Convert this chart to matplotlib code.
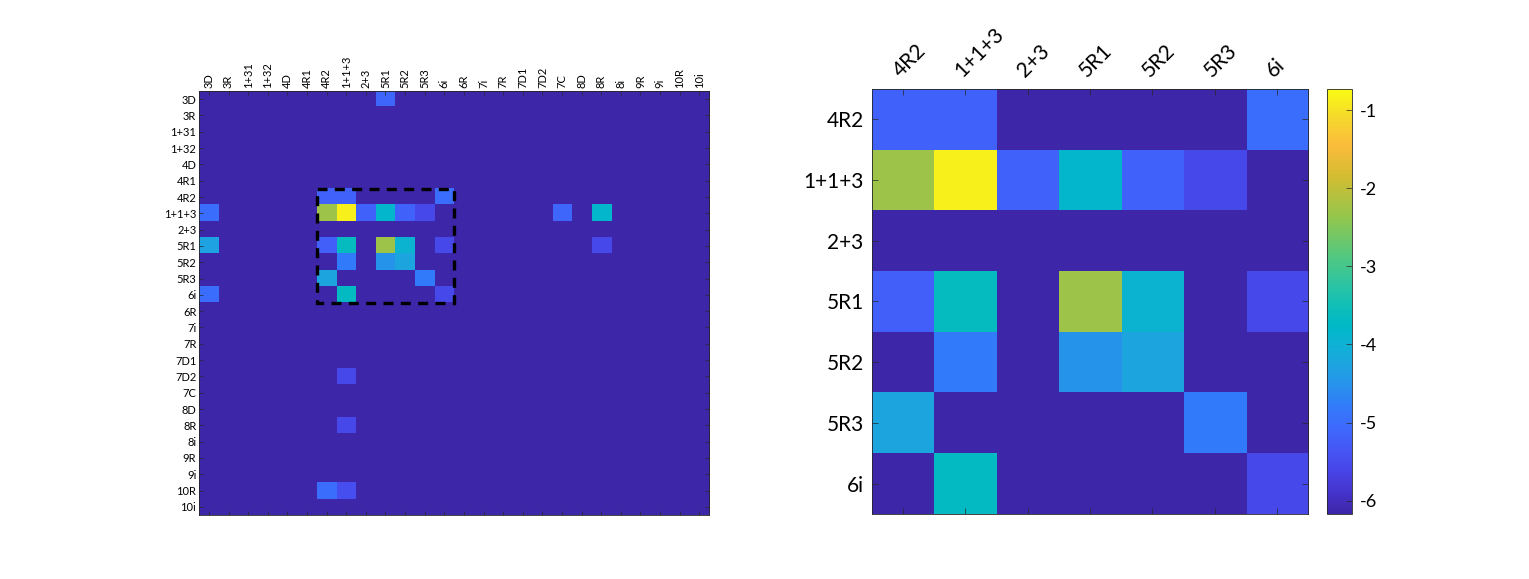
import numpy as np
import matplotlib
matplotlib.use("Agg")
import matplotlib.pyplot as plt
from matplotlib.colors import LinearSegmentedColormap
from matplotlib.patches import Rectangle

# state labels (rows == columns)
labels = ["3D", "3R", "1+31", "1+32", "4D", "4R1", "4R2", "1+1+3", "2+3",
          "5R1", "5R2", "5R3", "6i", "6R", "7i", "7R", "7D1", "7D2", "7C",
          "8D", "8R", "8i", "9R", "9i", "10R", "10i"]

# non-background cells (log10 values)
cell_rows = ["3D", "4R2", "4R2", "4R2",
             "1+1+3", "1+1+3", "1+1+3", "1+1+3", "1+1+3", "1+1+3", "1+1+3", "1+1+3", "1+1+3",
             "5R1", "5R1", "5R1", "5R1", "5R1", "5R1", "5R1",
             "5R2", "5R2", "5R2", "5R3", "5R3",
             "6i", "6i", "6i", "7D2", "8R", "10R", "10R"]
cell_cols = ["5R1", "4R2", "1+1+3", "6i",
             "3D", "4R2", "1+1+3", "2+3", "5R1", "5R2", "5R3", "7C", "8R",
             "3D", "4R2", "1+1+3", "5R1", "5R2", "6i", "8R",
             "1+1+3", "5R1", "5R2", "4R2", "5R3",
             "3D", "1+1+3", "6i", "1+1+3", "1+1+3", "4R2", "1+1+3"]
cell_vals = [-5.1, -5.15, -5.15, -5.0,
             -5.0, -2.3, -0.85, -5.15, -3.85, -5.15, -5.55, -5.1, -3.85,
             -4.3, -5.2, -3.65, -2.3, -3.95, -5.55, -5.55,
             -4.8, -4.5, -4.25, -4.25, -4.8,
             -5.0, -3.7, -5.55, -5.55, -5.55, -5.0, -5.45]

background = -6.17
vmin, vmax = -6.17, -0.73

# zoomed block shown on the right
zoom_labels = ["4R2", "1+1+3", "2+3", "5R1", "5R2", "5R3", "6i"]
cbar_ticks = [-6, -5, -4, -3, -2, -1]

# approximate parula
parula_pts = [
    (0.00, (62, 38, 168)), (0.05, (69, 52, 205)), (0.10, (71, 68, 230)),
    (0.15, (70, 86, 246)), (0.20, (63, 104, 252)), (0.25, (50, 122, 250)),
    (0.30, (40, 145, 236)), (0.35, (29, 164, 224)), (0.40, (14, 178, 212)),
    (0.44, (0, 184, 200)), (0.48, (12, 190, 186)), (0.53, (38, 195, 168)),
    (0.60, (78, 200, 132)), (0.70, (148, 198, 76)), (0.80, (214, 188, 48)),
    (0.87, (252, 188, 60)), (0.93, (245, 214, 45)), (1.00, (249, 251, 20)),
]
parula = LinearSegmentedColormap.from_list(
    "parula", [(p, tuple(c / 255 for c in rgb)) for p, rgb in parula_pts])

n = len(labels)
mat = np.full((n, n), background)
for r, c, v in zip(cell_rows, cell_cols, cell_vals):
    mat[labels.index(r), labels.index(c)] = v

idx = [labels.index(l) for l in zoom_labels]
sub = mat[np.ix_(idx, idx)]

plt.rcParams["font.family"] = ["Lato", "DejaVu Sans"]
plt.rcParams["axes.unicode_minus"] = False
edge = "#262626"

fig = plt.figure(figsize=(15.29, 5.79), dpi=100)

# left: full matrix
ax1 = fig.add_axes([0.1302, 0.1105, 0.3336, 0.7323])
ax1.imshow(mat, cmap=parula, vmin=vmin, vmax=vmax, aspect="auto",
           interpolation="nearest")
ax1.set_xticks(range(n))
ax1.set_yticks(range(n))
ax1.set_xticklabels(labels, rotation=90, fontsize=8)
ax1.set_yticklabels(labels, fontsize=8)
ax1.tick_params(top=True, bottom=True, left=True, right=True,
                labeltop=True, labelbottom=False, direction="in",
                length=3, width=0.5, color=edge, pad=2)
i0 = labels.index(zoom_labels[0])
i1 = labels.index(zoom_labels[-1])
ax1.add_patch(Rectangle((i0 - 0.5, i0 - 0.5), i1 - i0 + 1, i1 - i0 + 1,
                        fill=False, ec="black", lw=2.4, ls=(0, (3, 2.2))))
for s in ax1.spines.values():
    s.set_color(edge)
    s.set_linewidth(0.6)

# right: zoomed block
ax2 = fig.add_axes([0.5703, 0.1123, 0.2852, 0.734])
im = ax2.imshow(sub, cmap=parula, vmin=vmin, vmax=vmax, aspect="auto",
                interpolation="nearest")
ax2.set_xticks(range(len(zoom_labels)))
ax2.set_yticks(range(len(zoom_labels)))
ax2.set_xticklabels(zoom_labels, rotation=45, fontsize=15, ha="left",
                    rotation_mode="anchor")
ax2.set_yticklabels(zoom_labels, fontsize=15)
ax2.tick_params(top=True, bottom=True, left=True, right=True,
                labeltop=True, labelbottom=False, direction="in",
                length=4, width=0.5, color=edge, pad=6)
for s in ax2.spines.values():
    s.set_color(edge)
    s.set_linewidth(0.6)

cax = fig.add_axes([0.8679, 0.1123, 0.01635, 0.734])
cb = fig.colorbar(im, cax=cax, ticks=cbar_ticks)
cb.ax.tick_params(labelsize=13, direction="in", length=4, width=0.5,
                  color=edge, pad=6)
cb.outline.set_edgecolor(edge)
cb.outline.set_linewidth(0.6)

fig.savefig("out.png", dpi=100)
